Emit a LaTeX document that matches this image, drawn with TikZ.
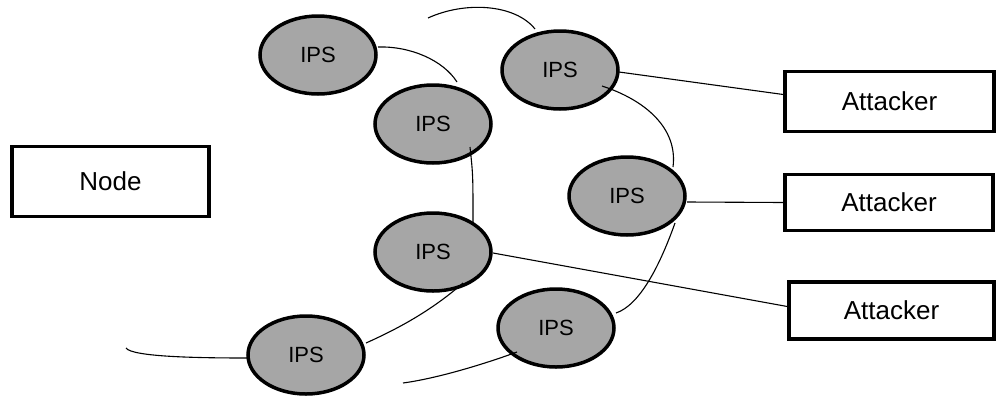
\documentclass[tikz,border=0pt]{standalone}
\usepackage{fontspec}
\setmainfont{Liberation Sans}
\usetikzlibrary{shapes.geometric,calc}
\tikzset{
  ips/.style={ellipse,draw,line width=3.5pt,fill=black!35,minimum width=116pt,minimum height=78pt,inner sep=0pt,font=\fontsize{22}{26}\selectfont},
  box/.style={rectangle,draw,line width=3.5pt,inner sep=0pt,font=\fontsize{26}{30}\selectfont},
  link/.style={line width=1.1pt}
}
\begin{document}
\begin{tikzpicture}[x=1pt,y=-1pt]
\useasboundingbox (0,0) rectangle (996,399);
% left node
\node[box,minimum width=197pt,minimum height=70pt] (node) at (110.5,181.5) {Node};
% attackers
\node[box,minimum width=209pt,minimum height=60pt] (atk1) at (889.5,101.5) {Attacker};
\node[box,minimum width=208pt,minimum height=56pt] (atk2) at (889,202.5) {Attacker};
\node[box,minimum width=205pt,minimum height=57pt] (atk3) at (891.5,310.5) {Attacker};
% ips ring
\node[ips] (ips1) at (318,55) {IPS};
\node[ips] (ips2) at (433,124) {IPS};
\node[ips] (ips3) at (560,70) {IPS};
\node[ips] (ips4) at (627,196) {IPS};
\node[ips] (ips5) at (433,252) {IPS};
\node[ips] (ips6) at (306,355) {IPS};
\node[ips] (ips7) at (556,328) {IPS};
% loose ends
\coordinate (top) at (428,18);
\coordinate (left) at (126,348);
\coordinate (low) at (403,383);
% links between ips
\draw[link] (top) .. controls (465,1) and (515,4) .. ($(ips3)+(-25,-41)$);
\draw[link] ($(ips1)+(60,-8)$) .. controls (410,46) and (443,60) .. ($(ips2)+(24,-42)$);
\draw[link] ($(ips2)+(37,23)$) .. controls (473,175) .. ($(ips5)+(40,-30)$);
\draw[link] ($(ips5)+(30,31)$) .. controls (430,312) and (395,330) .. ($(ips6)+(60,-12)$);
\draw[link] (left) .. controls (132,357) and (200,358) .. ($(ips6)+(-59,3)$);
\draw[link] (low) .. controls (440,378) and (490,362) .. ($(ips7)+(-39,24)$);
\draw[link] ($(ips3)+(42,16)$) .. controls (645,100) and (678,128) .. ($(ips4)+(46,-29)$);
\draw[link] ($(ips4)+(48,27)$) .. controls (660,265) and (640,305) .. ($(ips7)+(60,-15)$);
% links to attackers
\draw[link] ($(ips3)+(59,2)$) -- ($(atk1.west)+(0,-7)$);
\draw[link] ($(ips4)+(60,6)$) -- (atk2.west);
\draw[link] ($(ips5)+(60,1)$) -- ($(atk3.west)+(0,-4)$);
\end{tikzpicture}
\end{document}
